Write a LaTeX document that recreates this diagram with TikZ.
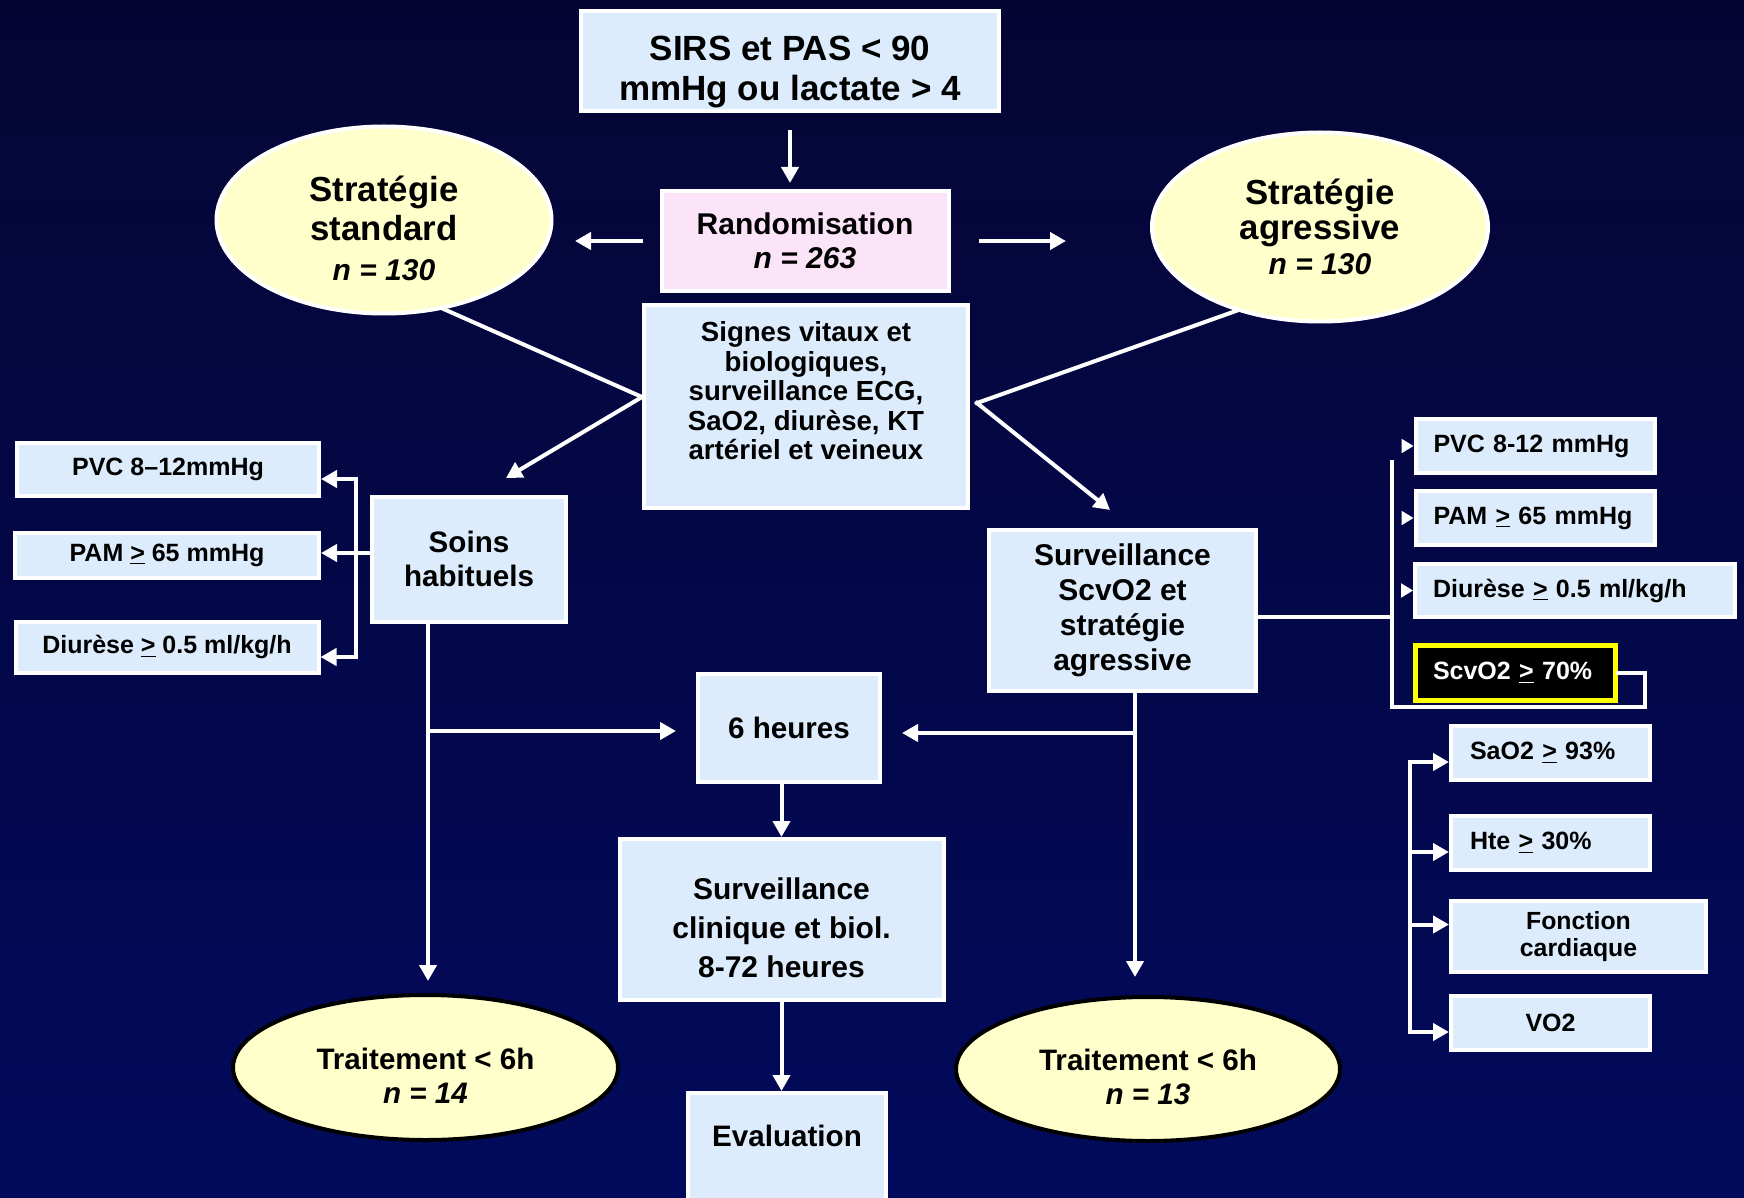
\documentclass[tikz,border=0pt]{standalone}
\usepackage{fontspec}
\setmainfont{Liberation Sans}
\usetikzlibrary{shapes.geometric,arrows.meta}
\definecolor{boxblue}{RGB}{220,236,252}
\definecolor{randpink}{RGB}{252,228,248}
\definecolor{ellyellow}{RGB}{255,255,204}
\definecolor{bgtop}{RGB}{5,5,52}
\definecolor{bgbot}{RGB}{2,10,92}
\definecolor{scvyellow}{RGB}{255,255,0}
\tikzset{node distance=2.5cm, auto,
  fs/.style 2 args={font=\bfseries\fontsize{#1}{#2}\selectfont},
  box/.style={draw=white, line width=2pt, fill=boxblue, inner sep=0pt, align=center},
  rbox/.style={box, align=left, inner xsep=9pt},
  ell/.style={ellipse, draw=white, line width=2pt, fill=ellyellow, inner sep=0pt, align=center},
  txt/.style={inner sep=0pt, align=center},
  wline/.style={draw=white, line width=2pt, line cap=rect},
  arr/.style={wline, -{Triangle[length=8pt,width=8.5pt]}},
  tip/.style={draw=white, line width=1pt, -{Triangle[length=6pt,width=7pt]}}}

\begin{document}
\begin{tikzpicture}[x=0.5pt, y=-0.5pt]
  \useasboundingbox (0,0) rectangle (1744,1198);
  \shade[top color=bgtop, bottom color=bgbot] (0,0) rectangle (1744,1198);

  % centre
  \node[box, minimum width=209pt, minimum height=50pt] (sirs) at (790,61) {};
  \node[txt, fs={17.5}{20}] (sirst) at ([yshift=-5.5pt]sirs.center) {SIRS et PAS < 90\\mmHg ou lactate > 4};
  \node[box, fill=randpink, fs={15}{17}, minimum width=143.5pt, minimum height=50pt] (rand) at (805,241)
    {Randomisation\\{\itshape n = 263}};
  \node[ell, minimum width=167.5pt, minimum height=93.5pt] (std) at (384,220) {};
  \node[txt, fs={17.4}{19.75}] (stdt) at ([yshift=-4pt]std.center)
    {Stratégie\\standard\\{\fontsize{15}{19.75}\selectfont\itshape n = 130}};
  \node[ell, fs={17.4}{17.5}, minimum width=168pt, minimum height=94.5pt] (agr) at (1320,227)
    {Stratégie\\agressive\\{\fontsize{15}{17.5}\selectfont\itshape n = 130}};
  \node[box, minimum width=162pt, minimum height=101.5pt] (signes) at (806,406) {};
  \node[txt, fs={13.8}{14.75}] (signest) at (806,391)
    {Signes vitaux et\\biologiques,\\surveillance ECG,\\SaO2, diurèse, KT\\artériel et veineux};

  % bras standard
  \node[box, fs={14.8}{17}, minimum width=97pt, minimum height=62.5pt] (soins) at (469,559) {Soins\\habituels};
  \node[box, fs={12.5}{14}, minimum width=151pt, minimum height=26.5pt] (pvcl) at (168,469) {PVC 8--12mmHg};
  \node[box, fs={12.5}{14}, minimum width=152pt, minimum height=22.5pt] (paml) at (167,555) {PAM \underline{>} 65 mmHg};
  \node[box, fs={12.5}{14}, minimum width=151.5pt, minimum height=25.5pt] (diul) at (167,647) {Diurèse \underline{>} 0.5 ml/kg/h};

  % bras agressif
  \node[box, fs={15}{17.5}, minimum width=133.5pt, minimum height=80.5pt] (surv) at (1122.5,610.5)
    {Surveillance\\ScvO2 et\\stratégie\\agressive};
  \node[rbox, fs={12.5}{14}, text width=101.5pt, minimum height=27pt] (pvcr) at (1535,446) {PVC 8-12 mmHg};
  \node[rbox, fs={12.5}{14}, text width=101.5pt, minimum height=27pt, below of=pvcr, node distance=36pt] (pamr) {PAM \underline{>} 65 mmHg};
  \node[rbox, fs={12.5}{14}, text width=142pt, minimum height=26.5pt] (diur) at (1575,590.5) {Diurèse \underline{>} 0.5 ml/kg/h};
  \node[rbox, fs={12.5}{14}, text width=82pt, minimum height=27.5pt, fill=black, draw=scvyellow, line width=2.5pt, text=white] (scvo) at (1515,672.5) {ScvO2 \underline{>} 70\%};

  \node[rbox, fs={12.5}{14}, inner xsep=9.5pt, text width=80.5pt, minimum height=27pt] (sao2) at (1550.5,753) {SaO2 \underline{>} 93\%};
  \node[rbox, fs={12.5}{14}, inner xsep=9.5pt, text width=80.5pt, minimum height=27pt, below of=sao2, node distance=45pt] (hte) {Hte \underline{>} 30\%};
  \node[box, fs={12.4}{13.5}, minimum width=127.5pt, minimum height=35.5pt] (fonc) at (1578.5,936.5) {Fonction\\cardiaque};
  \node[box, fs={12.5}{14}, minimum width=99.5pt, minimum height=27pt] (vo2) at (1550.5,1023) {VO2};

  % suivi
  \node[box, fs={14.8}{17}, minimum width=91pt, minimum height=54pt] (six) at (789,728) {6 heures};
  \node[box, minimum width=162pt, minimum height=80.5pt] (clin) at (781.5,919.5) {};
  \node[txt, fs={15}{19.5}] (clint) at ([yshift=-4pt]clin.center) {Surveillance\\clinique et biol.\\8-72 heures};
  \node[box, anchor=north, minimum width=99pt, minimum height=80pt] (evalb) at (787,1091) {};
  \node[txt, fs={14.8}{17}] (evalt) at (787,1136) {Evaluation};
  \node[ell, draw=black, minimum width=192.5pt, minimum height=72.5pt] (trl) at (425.5,1067.5) {};
  \node[txt, fs={14.8}{17}] (trlt) at ([yshift=-4pt]trl.center) {Traitement < 6h\\{\itshape n = 14}};
  \node[ell, draw=black, minimum width=192pt, minimum height=72pt] (trr) at (1148,1069) {};
  \node[txt, fs={14.8}{17}] (trrt) at ([yshift=-4pt]trr.center) {Traitement < 6h\\{\itshape n = 13}};

  % connecteurs
  \draw[arr, shorten <=9.5pt, shorten >=3pt] (sirs.south) -- (sirs.south |- rand.north);
  \draw[arr, shorten <=9.25pt, shorten >=10.75pt] (rand.west) -- (rand.west -| std.east);
  \draw[arr, shorten <=15.25pt, shorten >=42pt] (rand.east) -- (rand.east -| agr.west);

  \coordinate (lj) at ([yshift=4.5pt]signes.west);
  \coordinate (rj) at ([xshift=3.5pt,yshift=1.5pt]signes.east);
  \draw[wline] (std.-56) -- (lj);
  \draw[arr] (lj) -- ([xshift=18.5pt,yshift=8.25pt]soins.north);
  \draw[wline] (agr.-135) -- (rj);
  \draw[arr] (rj) -- ([xshift=-6.25pt,yshift=9pt]surv.north);

  \coordinate (lb) at (356,553);
  \coordinate (pvcla) at ([yshift=-5pt]pvcl.east);
  \coordinate (diula) at ([yshift=-5pt]diul.east);
  \draw[wline] (soins.west |- lb) -- (lb);
  \draw[wline] (lb |- pvcla) -- (lb |- diula);
  \draw[arr] (lb |- pvcla) -- (pvcla);
  \draw[arr] (lb) -- (lb -| paml.east);
  \draw[arr] (lb |- diula) -- (diula);

  \coordinate (rb) at (1392,617);
  \coordinate (rbt) at (1392,462);
  \coordinate (rbr) at (1645,707);
  \draw[wline] (surv.east |- rb) -- (rb);
  \draw[wline] (scvo.east) -| (rbr) -| (rbt);
  \foreach \n in {pvcr,pamr,diur}
    \draw[tip] ([xshift=-6pt]\n.west) -- (\n.west);

  \coordinate (gb) at (1410,762);
  \foreach \n/\s in {sao2/-4.5pt, hte/-4.5pt, fonc/6pt, vo2/-4.5pt}{
    \coordinate (\n-a) at ([yshift=\s]\n.west);
    \draw[arr] (gb |- \n-a) -- (\n-a);
  }
  \draw[wline] (gb |- sao2-a) -- (gb |- vo2-a);

  \coordinate (lv) at (428,731);
  \coordinate (rv) at (1135,733);
  \draw[arr, shorten >=6pt] (soins.south -| lv) -- (lv |- trl.north);
  \draw[arr, shorten >=10pt] (lv) -- (lv -| six.west);
  \draw[arr, shorten >=9pt] (surv.south -| rv) -- (rv |- trr.north);
  \draw[arr, shorten >=10pt] (rv) -- (rv -| six.east);
  \draw[arr] (clin.north |- six.south) -- (clin.north);
  \draw[arr] (clin.south) -- (clin.south |- evalb.north);
\end{tikzpicture}
\end{document}
